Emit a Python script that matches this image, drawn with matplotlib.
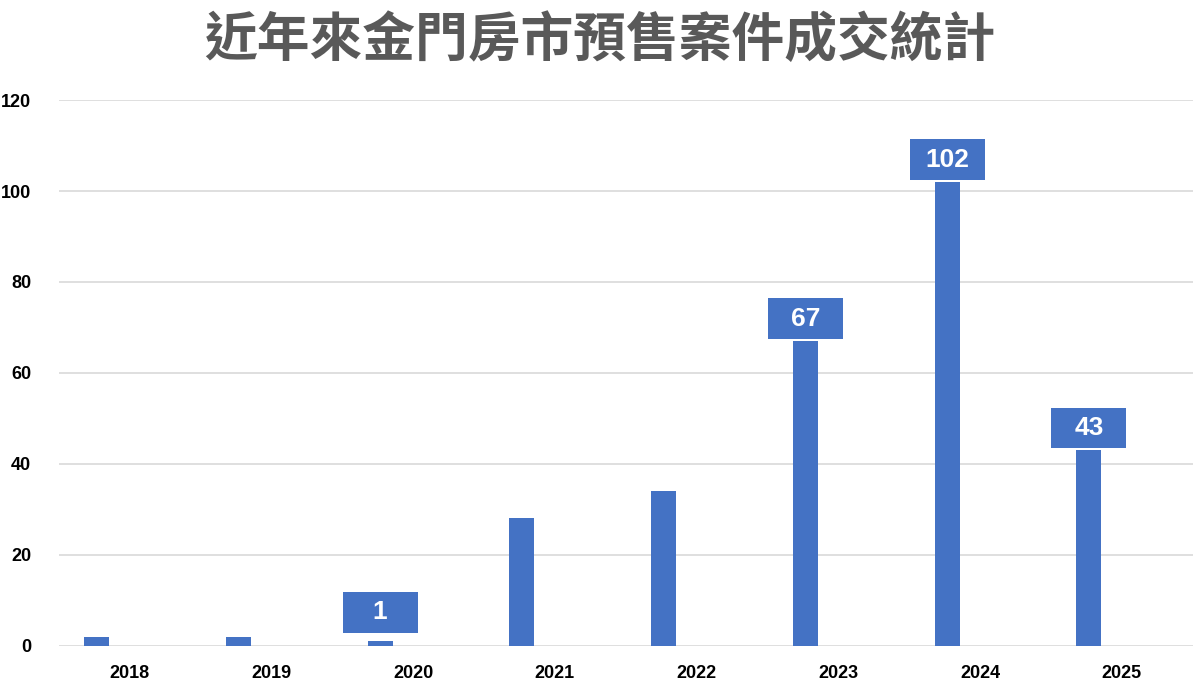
import numpy as np
import matplotlib
matplotlib.use('Agg')
import matplotlib.pyplot as plt
from matplotlib.patches import Rectangle

plt.rcParams['font.family'] = ['Liberation Sans', 'Noto Sans CJK TC', 'DejaVu Sans']

years = ['2018', '2019', '2020', '2021', '2022', '2023', '2024', '2025']
deals = [2, 2, 1, 28, 34, 67, 102, 43]
labeled = ['2020', '2023', '2024', '2025']
title = '近年來金門房市預售案件成交統計'

bar_color = '#4472C4'

fig = plt.figure(figsize=(12, 6.9), dpi=100)
ax = fig.add_axes([0.049, 0.064, 0.945, 0.791])

x = np.arange(len(years))
offset = -0.233
ax.bar(x + offset, deals, width=0.177, color=bar_color, zorder=3)

# value boxes above selected bars
box_w, box_h = 0.53, 9.0
for i, (yr, v) in enumerate(zip(years, deals)):
    if yr not in labeled:
        continue
    bottom = max(v + 0.4, 2.9)
    ax.add_patch(Rectangle((i + offset - box_w / 2, bottom), box_w, box_h,
                           facecolor=bar_color, edgecolor='none', zorder=4))
    ax.text(i + offset, bottom + box_h / 2, str(v), ha='center', va='center',
            color='white', fontsize=19, fontweight='bold', zorder=5)

ax.set_xlim(-0.5, len(years) - 0.5)
ax.set_ylim(0, 120)
ax.set_yticks(range(0, 121, 20))
ax.set_xticks(x)
ax.set_xticklabels(years)
ax.grid(axis='y', color='#d9d9d9', linewidth=1.2, zorder=0)
for s in ax.spines.values():
    s.set_visible(False)
ax.tick_params(axis='both', length=0, labelsize=13)
ax.tick_params(axis='y', pad=20)
ax.tick_params(axis='x', pad=14)
for lab in ax.get_xticklabels() + ax.get_yticklabels():
    lab.set_fontweight('bold')

fig.text(0.5, 0.942, title, ha='center', va='center', fontsize=38,
         color='#595959', fontweight='bold', family=['Noto Sans CJK TC', 'DejaVu Sans'])

plt.savefig('out.png', dpi=100)
